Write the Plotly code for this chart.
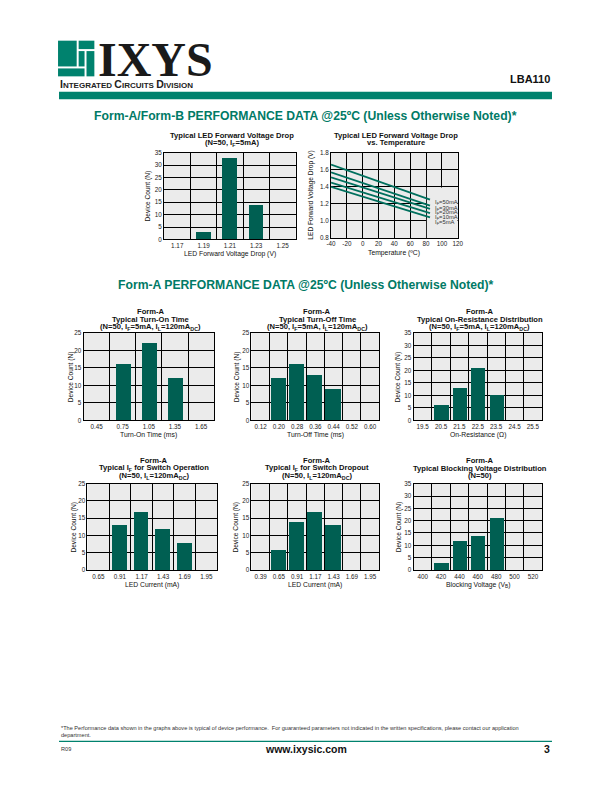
import plotly.graph_objects as go

W, H = 612, 792


def px(x):
    return x / W


def py(y):
    return 1 - y / H


# ---------------- data ----------------
vf_bins = ["1.17", "1.19", "1.21", "1.23", "1.25"]
vf_counts = [0, 3, 33, 14, 0]

temp_c = [-40, 85]
led_labels = ["50mA", "30mA", "20mA", "10mA", "5mA"]
vf_50 = [1.66, 1.25]
vf_30 = [1.57, 1.18]
vf_20 = [1.51, 1.14]
vf_10 = [1.45, 1.09]
vf_5 = [1.40, 1.04]
label_y = [1.21, 1.15, 1.095, 1.035, 0.975]
temp_ticks = [-40, -20, 0, 20, 40, 60, 80, 100, 120]

ton_bins = ["0.45", "0.75", "1.05", "1.35", "1.65"]
ton_counts = [0, 16, 22, 12, 0]

toff_bins = ["0.12", "0.20", "0.28", "0.36", "0.44", "0.52", "0.60"]
toff_counts = [0, 12, 16, 13, 9, 0, 0]

ron_bins = ["19.5", "20.5", "21.5", "22.5", "23.5", "24.5", "25.5"]
ron_counts = [0, 6, 13, 21, 10, 0, 0]

ifon_bins = ["0.65", "0.91", "1.17", "1.43", "1.69", "1.95"]
ifon_counts = [0, 13, 17, 12, 8, 0]

ifoff_bins = ["0.39", "0.65", "0.91", "1.17", "1.43", "1.69", "1.95"]
ifoff_counts = [0, 6, 14, 17, 13, 0, 0]

vb_bins = ["400", "420", "440", "460", "480", "500", "520"]
vb_counts = [0, 3, 12, 14, 21, 0, 0]

# ---------------- styles ----------------
TEAL = "#00826e"
BAR = "#005f52"
LINE = "#00705e"
BG = "#ebebeb"
FONT = "Liberation Sans Narrow, Liberation Sans, Arial, sans-serif"
FONT_W = "Liberation Sans, Arial, sans-serif"

fig = go.Figure()

# chart geometry (pixels): x0, x1, y0(top), y1(bottom)
boxes = {
    1: (162, 296, 150, 237.5),
    2: (332, 461, 150, 236),
    3: (80, 213, 332, 420),
    4: (251, 381, 332, 420),
    5: (416, 547, 332, 420),
    6: (84, 216, 484, 571),
    7: (251, 381, 484, 571),
    8: (416, 547, 484, 571),
}

bar_sets = {
    1: (vf_bins, vf_counts, 35, 0.56),
    3: (ton_bins, ton_counts, 25, 0.57),
    4: (toff_bins, toff_counts, 25, 0.84),
    5: (ron_bins, ron_counts, 35, 0.78),
    6: (ifon_bins, ifon_counts, 25, 0.68),
    7: (ifoff_bins, ifoff_counts, 25, 0.84),
    8: (vb_bins, vb_counts, 35, 0.78),
}

layout = dict(
    width=W, height=H, margin=dict(l=0, r=0, t=0, b=0),
    paper_bgcolor="white", plot_bgcolor=BG, showlegend=False,
    font=dict(family=FONT, color="#111"),
)

tickfont = dict(family=FONT, size=6.3, color="#222")

for i, (x0, x1, y0, y1) in boxes.items():
    xa = "xaxis" if i == 1 else f"xaxis{i}"
    ya = "yaxis" if i == 1 else f"yaxis{i}"
    xr = "x" if i == 1 else f"x{i}"
    yr = "y" if i == 1 else f"y{i}"
    common = dict(showline=True, mirror=True, linecolor="black", linewidth=1,
                  showgrid=True, gridcolor="black", gridwidth=1, zeroline=False,
                  tickfont=tickfont, ticks="", tickangle=0, fixedrange=True)
    if i in bar_sets:
        bins, counts, ymax, frac = bar_sets[i]
        fig.add_trace(go.Bar(x=bins, y=counts, xaxis=xr, yaxis=yr,
                             marker=dict(color=BAR, line=dict(width=0)), width=frac))
        layout[xa] = dict(domain=[px(x0), px(x1)], anchor=yr, type="category",
                          tickson="boundaries", range=[-0.5, len(bins) - 0.5], **common)
        layout[ya] = dict(domain=[py(y1), py(y0)], anchor=xr, range=[0, ymax],
                          dtick=5, tick0=0, **common)
    else:
        layout[xa] = dict(domain=[px(x0), px(x1)], anchor=yr, range=[-40, 120],
                          tickvals=temp_ticks, ticktext=[str(t) for t in temp_ticks],
                          **common)
        layout[ya] = dict(domain=[py(y1), py(y0)], anchor=xr, range=[0.8, 1.8],
                          dtick=0.2, tick0=0.8, tickformat=".1f", **common)

# temperature lines
for ys in [vf_50, vf_30, vf_20, vf_10, vf_5]:
    fig.add_trace(go.Scatter(x=temp_c, y=ys, xaxis="x2", yaxis="y2", mode="lines",
                             line=dict(color=LINE, width=1.8)))

fig.update_layout(**layout)

ann = []


def text(x, y, s, size, bold=False, color="#111", xanchor="center", family=FONT,
         angle=0, yanchor="middle"):
    if bold:
        s = f"<b>{s}</b>"
    ann.append(dict(x=px(x), y=py(y), xref="paper", yref="paper", text=s, showarrow=False,
                    xanchor=xanchor, yanchor=yanchor, textangle=angle,
                    font=dict(size=size, color=color, family=family)))


# chart titles
titles = {
    1: (["Typical LED Forward Voltage Drop", "(N=50, I<sub>F</sub>=5mA)"], [132.5, 140]),
    2: (["Typical LED Forward Voltage Drop", "vs. Temperature"], [132.5, 140]),
    3: (["Form-A", "Typical Turn-On Time",
         "(N=50, I<sub>F</sub>=5mA, I<sub>L</sub>=120mA<sub>DC</sub>)"], [310.5, 318, 325.5]),
    4: (["Form-A", "Typical Turn-Off Time",
         "(N=50, I<sub>F</sub>=5mA, I<sub>L</sub>=120mA<sub>DC</sub>)"], [310.5, 318, 325.5]),
    5: (["Form-A", "Typical On-Resistance Distribution",
         "(N=50, I<sub>F</sub>=5mA, I<sub>L</sub>=120mA<sub>DC</sub>)"], [310.5, 318, 325.5]),
    6: (["Form-A", "Typical I<sub>F</sub> for Switch Operation",
         "(N=50, I<sub>L</sub>=120mA<sub>DC</sub>)"], [461, 468.5, 476]),
    7: (["Form-A", "Typical I<sub>F</sub> for Switch Dropout",
         "(N=50, I<sub>L</sub>=120mA<sub>DC</sub>)"], [461, 468.5, 476]),
    8: (["Form-A", "Typical Blocking Voltage Distribution", "(N=50)"], [461, 468.5, 476]),
}
for i, (lines, ys) in titles.items():
    x0, x1, _, _ = boxes[i]
    for s, y in zip(lines, ys):
        text((x0 + x1) / 2 + 2, y, s, 7.6, bold=True)

xtitles = {
    1: "LED Forward Voltage Drop (V)", 2: "Temperature (ºC)", 3: "Turn-On Time (ms)",
    4: "Turn-Off Time (ms)", 5: "On-Resistance (Ω)", 6: "LED Current (mA)",
    7: "LED Current (mA)", 8: "Blocking Voltage (V<sub>B</sub>)",
}
for i, s in xtitles.items():
    x0, x1, _, y1 = boxes[i]
    text((x0 + x1) / 2, y1 + 15, s, 6.8)

ytitle_x = {1: 146, 2: 312, 3: 66.7, 4: 235.7, 5: 400, 6: 70, 7: 235, 8: 400.7}
for i, xx in ytitle_x.items():
    _, _, y0, y1 = boxes[i]
    s = "LED Forward Voltage Drop (V)" if i == 2 else "Device Count (N)"
    text(xx, (y0 + y1) / 2, s, 6.6, angle=-90)

# legend labels of the temperature chart
for lab, yv in zip(led_labels, label_y):
    ann.append(dict(x=89, y=yv, xref="x2", yref="y2", text=f"I<sub>F</sub>={lab}",
                    showarrow=False, xanchor="left", yanchor="middle",
                    font=dict(size=5.8, color="#333", family=FONT)))

# section titles
text(306, 113, "Form-A/Form-B PERFORMANCE DATA @25ºC (Unless Otherwise Noted)*", 12.2,
     bold=True, color="#007a66", family=FONT_W)
text(306, 284, "Form-A PERFORMANCE DATA @25ºC (Unless Otherwise Noted)*", 12.2,
     bold=True, color="#007a66", family=FONT_W)

# header
text(93, 55.5, "IXYS", 48, bold=True, color="#1a1a1a", xanchor="left",
     family="Liberation Serif, DejaVu Serif, serif")
text(54, 80.5, "<span style='font-size:10.5px'>I</span>NTEGRATED "
     "<span style='font-size:10.5px'>C</span>IRCUITS "
     "<span style='font-size:10.5px'>D</span>IVISION", 8, bold=True, xanchor="left",
     family=FONT_W, color="#222")
text(557, 76, "LBA110", 11, bold=True, xanchor="right", family=FONT_W)

# footer
text(55, 730, "*The Performance data shown in the graphs above is typical of device performance.  "
     "For guaranteed parameters not indicated in the written specifications, please contact our application",
     5.6, xanchor="left", family=FONT_W, color="#333")
text(55, 737.5, "department.", 5.6, xanchor="left", family=FONT_W, color="#333")
text(55, 752, "R09", 5.6, xanchor="left", family=FONT_W, color="#333")
text(306, 752, "www.ixysic.com", 10.5, bold=True, family=FONT_W)
text(557, 752, "3", 10.5, bold=True, xanchor="right", family=FONT_W)

shapes = [
    dict(type="rect", xref="paper", yref="paper", x0=px(55), x1=px(557), y0=py(96),
         y1=py(88.5), fillcolor=TEAL, line=dict(width=0)),
    dict(type="line", xref="paper", yref="paper", x0=px(55), x1=px(557), y0=py(744),
         y1=py(744), line=dict(color=TEAL, width=1.2)),
    # logo blocks
    dict(type="rect", xref="paper", yref="paper", x0=px(54), x1=px(73), y0=py(63), y1=py(37),
         fillcolor=TEAL, line=dict(width=0)),
    dict(type="rect", xref="paper", yref="paper", x0=px(75), x1=px(91), y0=py(45.5), y1=py(37),
         fillcolor=TEAL, line=dict(width=0)),
    dict(type="rect", xref="paper", yref="paper", x0=px(83), x1=px(91), y0=py(73), y1=py(47.5),
         fillcolor=TEAL, line=dict(width=0)),
    dict(type="rect", xref="paper", yref="paper", x0=px(54), x1=px(81), y0=py(73), y1=py(65),
         fillcolor=TEAL, line=dict(width=0)),
    dict(type="rect", xref="paper", yref="paper", x0=px(75), x1=px(81), y0=py(63), y1=py(47.5),
         fillcolor=TEAL, line=dict(width=0)),
    # blank legend region in temperature chart
    dict(type="rect", xref="x2", yref="y2", x0=81, x1=120, y0=0.8, y1=1.39, layer="between",
         fillcolor=BG, line=dict(width=0)),
]

fig.update_layout(annotations=ann, shapes=shapes, bargap=0)
fig.write_html("out.html", config={"displayModeBar": False},
               post_script="document.body.style.margin='0';document.body.style.overflow='hidden';")
